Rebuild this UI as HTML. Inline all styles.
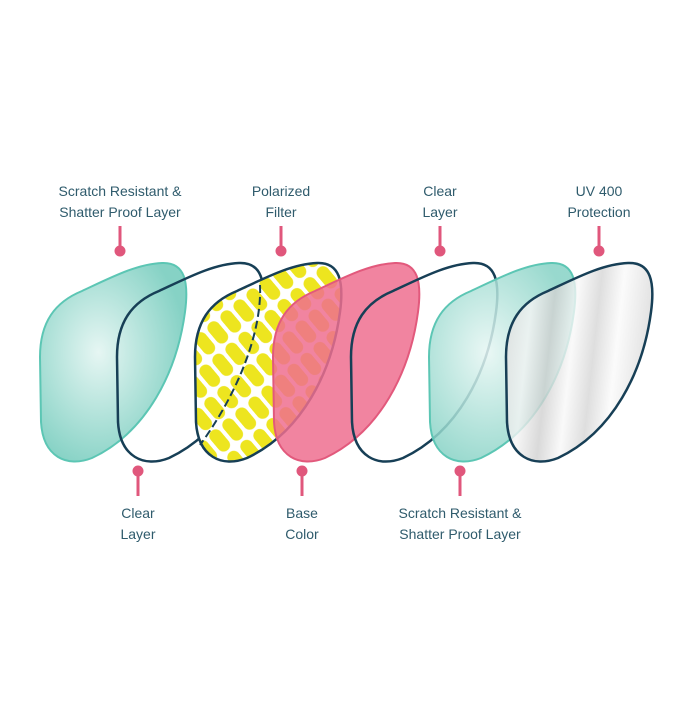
<!DOCTYPE html>
<html><head><style>
body{margin:0;background:#fff;width:700px;height:700px;overflow:hidden}
svg text{font-family:"Liberation Sans",sans-serif;font-size:14px;fill:#2f5b6c;text-anchor:middle}
</style></head><body>
<svg width="700" height="700" viewBox="0 0 700 700">
<defs>
<path id="L" d="M3,95 C3,60 18,40 45,29 C75,15 100,2 125,1 C148,0 152,20 148,50 C140,110 110,170 55,196 C30,206 6,195 4,160 Z"/>
<radialGradient id="tg" cx="0.4" cy="0.45" r="0.6"><stop offset="0" stop-color="#e6f6f3"/><stop offset="1" stop-color="#86d2c5"/></radialGradient>
<linearGradient id="sg" x1="0" x2="1" y1="0" y2="0.15">
<stop offset="0" stop-color="#d8d8d8"/><stop offset="0.2" stop-color="#f4f4f4"/><stop offset="0.35" stop-color="#d0d0d0"/><stop offset="0.5" stop-color="#f8f8f8"/><stop offset="0.65" stop-color="#d6d6d6"/><stop offset="0.8" stop-color="#fafafa"/><stop offset="1" stop-color="#dcdcdc"/></linearGradient>
<pattern id="yp" width="28" height="17" patternUnits="userSpaceOnUse" patternTransform="rotate(50)">
<rect width="28" height="17" fill="#fff"/><rect x="2" y="2" width="25" height="13" rx="6.5" fill="#ede51f"/></pattern>
</defs>
<use href="#L" transform="translate(37,262)" fill="url(#tg)" stroke="#5cc6b4" stroke-width="2"/>
<use href="#L" transform="translate(114,262)" fill="none" stroke="#173f56" stroke-width="2.5"/>
<use href="#L" transform="translate(192,262)" fill="url(#yp)" stroke="#173f56" stroke-width="2.5"/>
<path d="M260,285 C262,330 240,390 200,445" fill="none" stroke="#173f56" stroke-width="2" stroke-dasharray="8,4"/>
<use href="#L" transform="translate(270,262)" fill="#ee6f8f" fill-opacity="0.85" stroke="#e2597c" stroke-width="2"/>
<use href="#L" transform="translate(348,262)" fill="none" stroke="#173f56" stroke-width="2.5"/>
<use href="#L" transform="translate(426,262)" fill="url(#tg)" fill-opacity="0.85" stroke="#5cc6b4" stroke-width="2"/>
<use href="#L" transform="translate(503,262)" fill="url(#sg)" fill-opacity="0.8" stroke="#173f56" stroke-width="2.5"/>
<g stroke="#e0577c" stroke-width="3" fill="#e0577c">
<line x1="120" y1="226" x2="120" y2="250"/><circle cx="120" cy="251" r="4"/>
<line x1="281" y1="226" x2="281" y2="250"/><circle cx="281" cy="251" r="4"/>
<line x1="440" y1="226" x2="440" y2="250"/><circle cx="440" cy="251" r="4"/>
<line x1="599" y1="226" x2="599" y2="250"/><circle cx="599" cy="251" r="4"/>
<line x1="138" y1="472" x2="138" y2="496"/><circle cx="138" cy="471" r="4"/>
<line x1="302" y1="472" x2="302" y2="496"/><circle cx="302" cy="471" r="4"/>
<line x1="460" y1="472" x2="460" y2="496"/><circle cx="460" cy="471" r="4"/>
</g>
<text x="120" y="196">Scratch Resistant &amp;</text><text x="120" y="217">Shatter Proof Layer</text>
<text x="281" y="196">Polarized</text><text x="281" y="217">Filter</text>
<text x="440" y="196">Clear</text><text x="440" y="217">Layer</text>
<text x="599" y="196">UV 400</text><text x="599" y="217">Protection</text>
<text x="138" y="518">Clear</text><text x="138" y="539">Layer</text>
<text x="302" y="518">Base</text><text x="302" y="539">Color</text>
<text x="460" y="518">Scratch Resistant &amp;</text><text x="460" y="539">Shatter Proof Layer</text>
</svg>
</body></html>
